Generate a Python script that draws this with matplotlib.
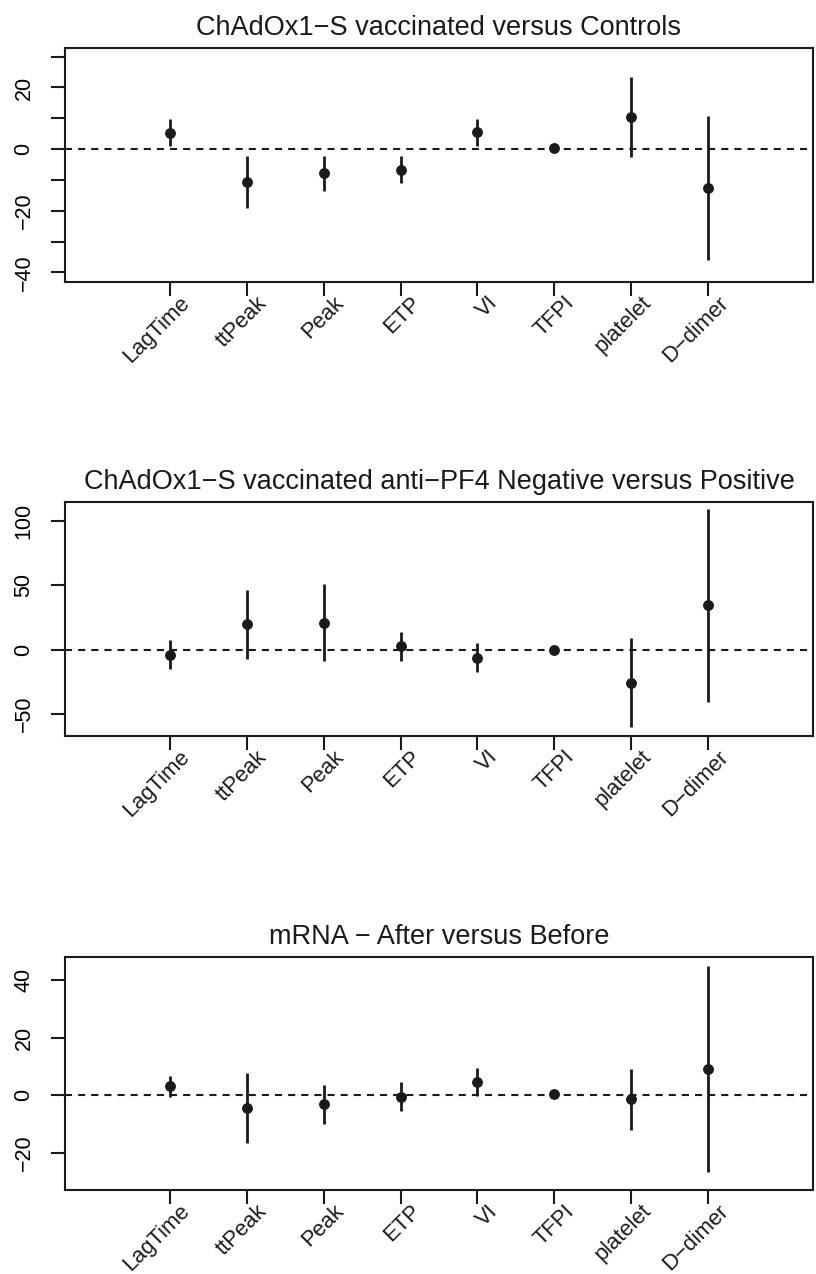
import matplotlib
matplotlib.use("Agg")
import matplotlib.pyplot as plt
import matplotlib.transforms as mtransforms

plt.rcParams['font.family'] = ['Liberation Sans', 'DejaVu Sans']

categories = ["LagTime", "ttPeak", "Peak", "ETP", "VI", "TFPI", "platelet", "D\u2212dimer"]

titles = [
    "ChAdOx1\u2212S vaccinated versus Controls",
    "ChAdOx1\u2212S vaccinated anti\u2212PF4 Negative versus Positive",
    "mRNA \u2212 After versus Before",
]

# panel 1
est1 = [5.3, -10.6, -7.9, -6.8, 5.5, 0.3, 10.5, -12.5]
lo1 = [1.0, -19.1, -13.7, -11.1, 1.1, -0.2, -2.5, -36.0]
hi1 = [9.7, -2.1, -2.1, -2.3, 9.8, 0.8, 23.5, 10.9]

# panel 2
est2 = [-4.1, 19.7, 21.0, 2.6, -6.5, 0.0, -25.9, 34.5]
lo2 = [-15.3, -7.0, -8.5, -8.5, -17.6, -1.0, -60.4, -40.4]
hi2 = [7.5, 46.4, 50.8, 13.7, 4.9, 1.0, 8.8, 109.1]

# panel 3
est3 = [3.0, -4.5, -3.2, -0.5, 4.6, 0.5, -1.5, 9.0]
lo3 = [-0.8, -16.7, -10.1, -5.4, -0.2, 0.0, -12.2, -26.7]
hi3 = [6.7, 7.6, 3.6, 4.5, 9.5, 1.0, 8.9, 44.8]

yticks1 = [-40, -30, -20, -10, 0, 10, 20, 30]
ylabels1 = ["\u221240", "", "\u221220", "", "0", "", "20", ""]
yticks2 = [-50, 0, 50, 100]
ylabels2 = ["\u221250", "0", "50", "100"]
yticks3 = [-20, 0, 20, 40]
ylabels3 = ["\u221220", "0", "20", "40"]

panels = [
    (est1, lo1, hi1, yticks1, ylabels1, (-43.0, 32.9)),
    (est2, lo2, hi2, yticks2, ylabels2, (-66.8, 115.0)),
    (est3, lo3, hi3, yticks3, ylabels3, (-33.0, 48.1)),
]

W, H = 816, 1274
fig = plt.figure(figsize=(W / 100, H / 100), dpi=100)
boxes = [(47.7, 281.7), (501.7, 735.7), (956.7, 1190.0)]
left_px, right_px = 65, 813
col = "#1a1a1a"

for (est, lo, hi, yt, yl, ylim), (top, bot), title in zip(panels, boxes, titles):
    ax = fig.add_axes([left_px / W, 1 - bot / H, (right_px - left_px) / W, (bot - top) / H])
    x = list(range(1, len(categories) + 1))
    ax.axhline(0, color=col, lw=1.5, ls=(0, (3.4, 2.9)), zorder=1)
    ax.vlines(x, lo, hi, color=col, lw=2.0, zorder=2)
    ax.plot(x, est, 'o', ms=6.8, color=col, zorder=3)
    ax.set_xlim(-0.36, 9.36)
    ax.set_ylim(*ylim)
    ax.set_xticks(x)
    ax.set_xticklabels([""] * len(x))
    ax.set_yticks(yt)
    ax.set_yticklabels(yl, rotation=90, va='center', fontsize=15.5)
    ax.tick_params(axis='both', direction='out', length=10, width=1.5, color=col)
    ax.tick_params(axis='y', pad=12)
    for s in ax.spines.values():
        s.set_linewidth(1.5)
        s.set_color(col)
    trans = mtransforms.blended_transform_factory(ax.transData, ax.transAxes)
    off = mtransforms.ScaledTranslation(17 / 100, -18 / 100, fig.dpi_scale_trans)
    for xi, lab in zip(x, categories):
        ax.text(xi, 0, lab, transform=trans + off, rotation=45, ha='right', va='center',
                rotation_mode='anchor', fontsize=15.8, color=col)
    ax.set_title(title, fontsize=19.5, pad=9, color=col)

fig.savefig("out.png", dpi=100)
